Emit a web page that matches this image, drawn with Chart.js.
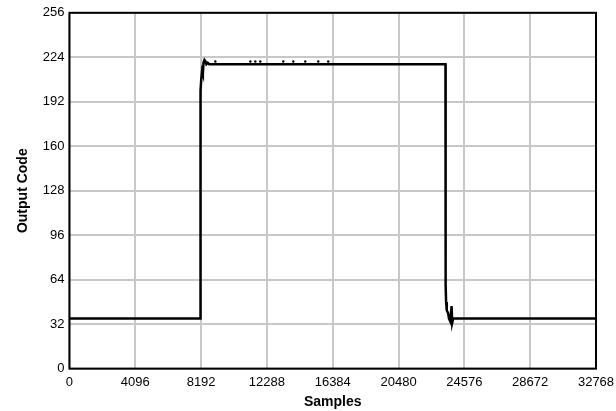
<!DOCTYPE html>
<html>
<head>
  <script src="https://cdn.jsdelivr.net/npm/chart.js@4.4.0/dist/chart.umd.min.js"></script>
  <style>
    body { margin: 0; padding: 0; background: #fff; overflow: hidden; }
    #wrap { width: 616px; height: 411px; }
  </style>
</head>
<body>
  <div id="wrap"><canvas id="c"></canvas></div>
  <script>
    // step response: sample index vs output code
    const samples = [0, 8145, 8150, 8160, 8200, 8250, 8300, 8340, 8400, 8460, 8520, 8600, 8700,
      23400, 23410, 23440, 23480, 23560, 23620, 23700, 23780, 23820, 23880, 32768];
    const codes = [36, 36, 150, 200, 208, 214, 212, 220, 222, 221, 219, 220, 219,
      219, 60, 48, 42, 40, 36, 34, 45, 33, 36, 36];
    // small glitches just above the flat top
    const glitchSamples = [9078, 11254, 11565, 11876, 13306, 13928, 14674, 15483, 16105];
    const glitchCodes = [221, 221, 221, 221, 221, 221, 221, 221, 221];

    const xTicks = [0, 4096, 8192, 12288, 16384, 20480, 24576, 28672, 32768];
    const yTicks = [0, 32, 64, 96, 128, 160, 192, 224, 256];

    const font = 'Arial, "Liberation Sans", sans-serif';

    const frame = {
      id: 'frame',
      afterDatasetsDraw(chart) {
        const a = chart.chartArea, ctx = chart.ctx;
        ctx.save();
        ctx.strokeStyle = '#000';
        ctx.lineWidth = 2;
        ctx.strokeRect(a.left, a.top, a.right - a.left, a.bottom - a.top);
        ctx.restore();
      }
    };

    new Chart(document.getElementById('c'), {
      type: 'scatter',
      data: {
        datasets: [{
          data: samples.map((s, i) => ({ x: s, y: codes[i] })),
          showLine: true,
          borderColor: '#000',
          borderWidth: 2.5,
          pointRadius: 0,
          tension: 0
        }, {
          data: glitchSamples.map((s, i) => ({ x: s, y: glitchCodes[i] })),
          showLine: false,
          pointRadius: 1.2,
          pointBackgroundColor: '#000',
          pointBorderWidth: 0
        }]
      },
      plugins: [frame],
      options: {
        responsive: true,
        maintainAspectRatio: false,
        animation: false,
        layout: { padding: { top: 5, right: 0, left: 9, bottom: 0 } },
        plugins: { legend: { display: false }, tooltip: { enabled: false } },
        scales: {
          x: {
            type: 'linear',
            min: 0,
            max: 32768,
            afterBuildTicks: s => { s.ticks = xTicks.map(v => ({ value: v })); },
            afterFit: s => { s.paddingRight = 20; },
            ticks: { color: '#000', font: { family: font, size: 13 }, padding: 6, maxRotation: 0,
              callback: v => String(v) },
            grid: { color: '#c8c8c8', lineWidth: 2, drawTicks: false },
            border: { display: false },
            title: { display: true, text: 'Samples', color: '#000', font: { family: font, size: 14, weight: 'bold' },
              padding: { top: -2, bottom: 0 } }
          },
          y: {
            min: 0,
            max: 256,
            afterBuildTicks: s => { s.ticks = yTicks.map(v => ({ value: v })); },
            ticks: { color: '#000', font: { family: font, size: 13 }, padding: 5,
              callback: v => String(v) },
            grid: { color: '#c8c8c8', lineWidth: 2, drawTicks: false },
            border: { display: false },
            title: { display: true, text: 'Output Code', color: '#000', font: { family: font, size: 14, weight: 'bold' }, padding: 6 }
          }
        }
      }
    });
  </script>
</body>
</html>
